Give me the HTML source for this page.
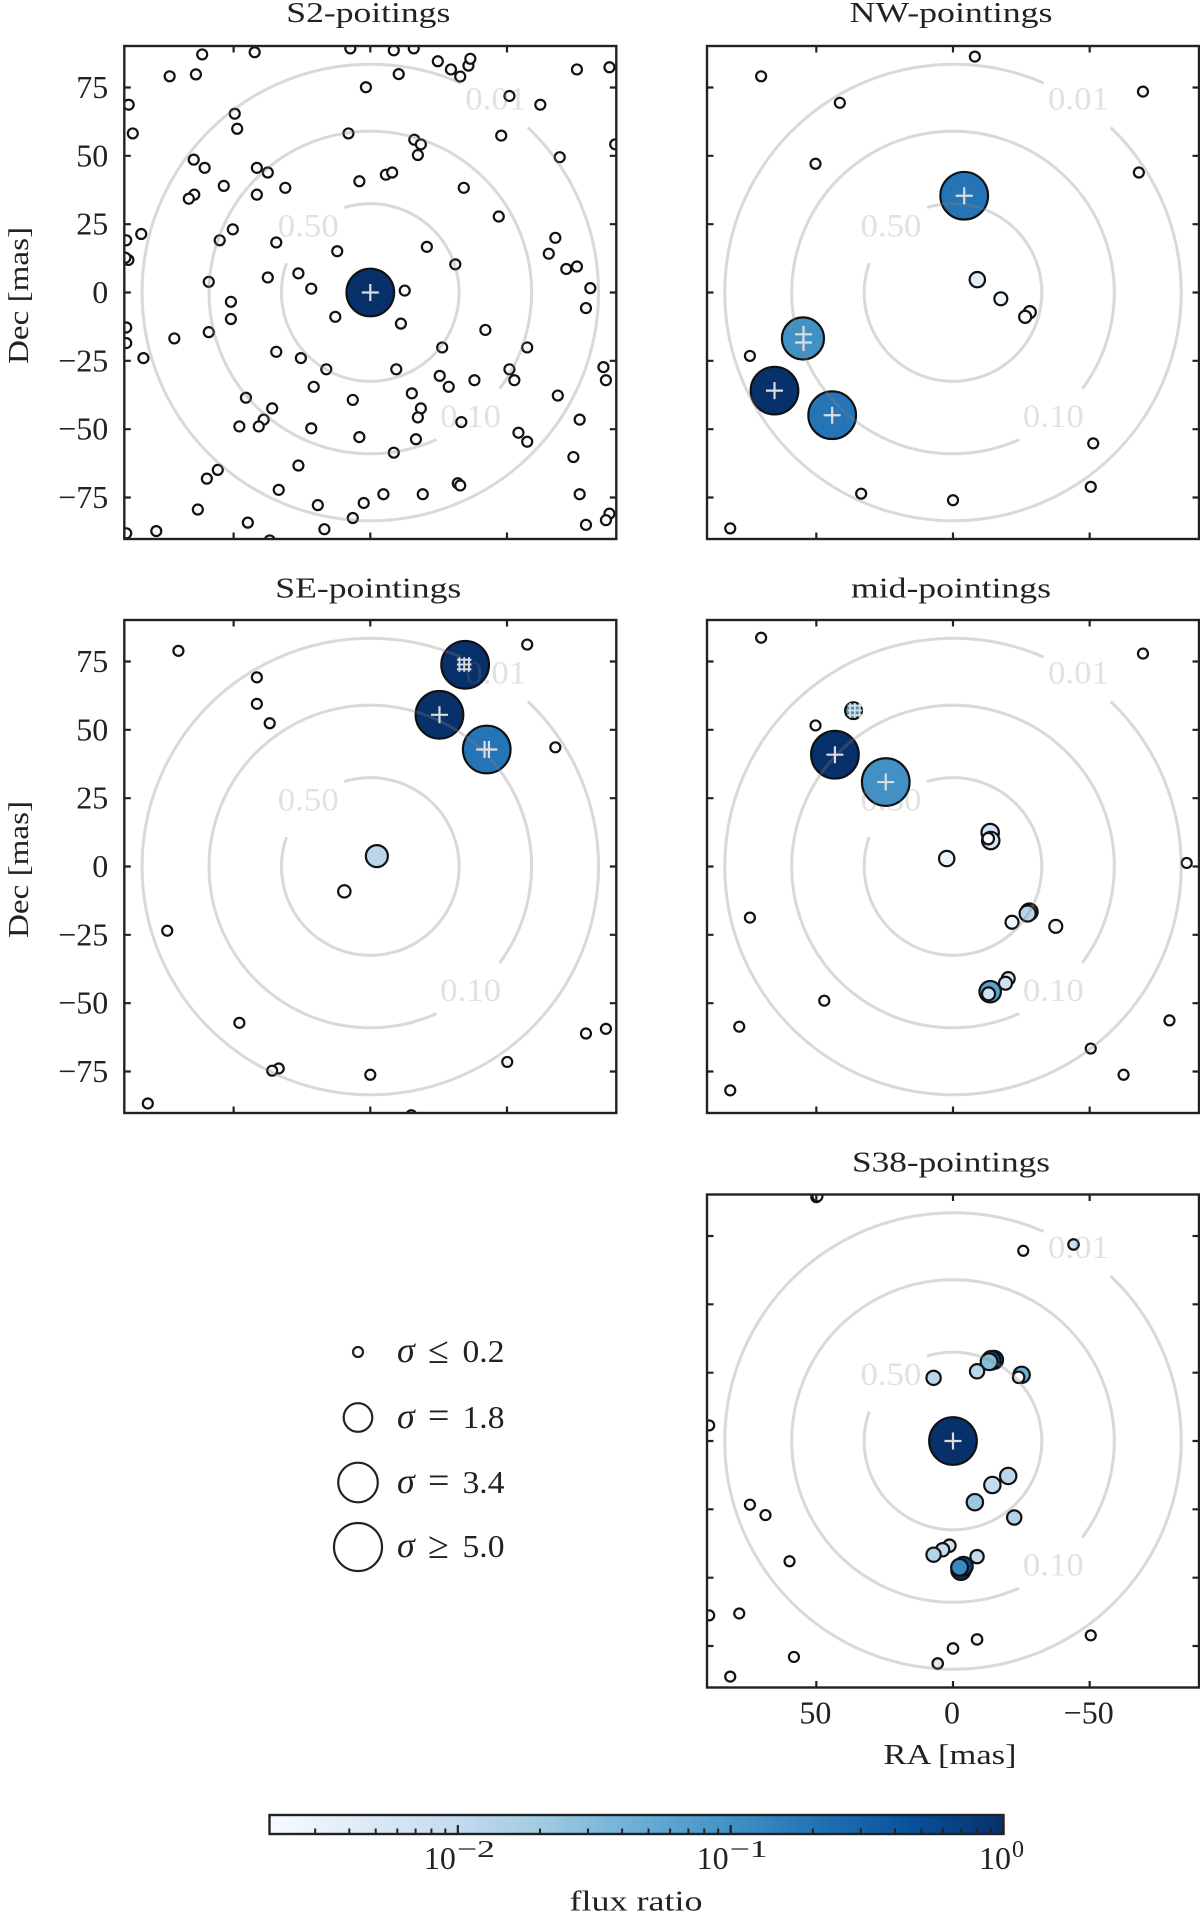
<!DOCTYPE html>
<html lang="en">
<head>
<meta charset="utf-8">
<title>Pointings flux ratio chart</title>
<style>
html,body{margin:0;padding:0;background:#fff;}
body{width:1200px;height:1922px;overflow:hidden;}
svg{display:block;}
text{font-family:"Liberation Serif","DejaVu Serif",serif;fill:#222;}
</style>
</head>
<body>
<svg id="chart" xmlns="http://www.w3.org/2000/svg" width="1200" height="1922" viewBox="0 0 1200 1922">
  <defs>
    <linearGradient id="blues" x1="0" x2="1" y1="0" y2="0">
      <stop offset="0" stop-color="#f7fbff"/><stop offset="0.125" stop-color="#deebf7"/>
      <stop offset="0.25" stop-color="#c6dbef"/><stop offset="0.375" stop-color="#9ecae1"/>
      <stop offset="0.5" stop-color="#6baed6"/><stop offset="0.625" stop-color="#4292c6"/>
      <stop offset="0.75" stop-color="#2171b5"/><stop offset="0.875" stop-color="#08519c"/>
      <stop offset="1" stop-color="#08306b"/>
    </linearGradient>
  </defs>
  <g>
    <circle cx="358" cy="1352" r="5" fill="#fff" stroke="#222" stroke-width="2.2"/>
    <text x="397" y="1362" font-size="36" font-style="italic">σ</text>
    <text x="428" y="1363" font-size="38">≤</text>
    <text x="462.5" y="1362" font-size="32" textLength="42" lengthAdjust="spacingAndGlyphs">0.2</text>
    <circle cx="358" cy="1417.5" r="14.3" fill="#fff" stroke="#222" stroke-width="2.2"/>
    <text x="397" y="1428" font-size="36" font-style="italic">σ</text>
    <text x="428" y="1428" font-size="38">=</text>
    <text x="462.5" y="1428" font-size="32" textLength="42" lengthAdjust="spacingAndGlyphs">1.8</text>
    <circle cx="358" cy="1482.5" r="19.8" fill="#fff" stroke="#222" stroke-width="2.2"/>
    <text x="397" y="1493" font-size="36" font-style="italic">σ</text>
    <text x="428" y="1493" font-size="38">=</text>
    <text x="462.5" y="1493" font-size="32" textLength="42" lengthAdjust="spacingAndGlyphs">3.4</text>
    <circle cx="358" cy="1547" r="24" fill="#fff" stroke="#222" stroke-width="2.2"/>
    <text x="397" y="1557" font-size="36" font-style="italic">σ</text>
    <text x="428" y="1558" font-size="38">≥</text>
    <text x="462.5" y="1557" font-size="32" textLength="42" lengthAdjust="spacingAndGlyphs">5.0</text>
  </g>
</svg>
<script>
// ---------- S2 panel ----------
const s2Ra = [0,61.5,42.3,7.3,-8.6,-15.9,-24.7,-29.5,-32.9,-35.9,-36.6,-75.6,-87.5,73.4,63.8,-10.4,1.6,-50.9,-62.2,88.4,49.6,48.7,86.9,8.0,-16.1,-18.5,-17.4,-47.9,-89.6,-69.3,64.6,60.6,41.5,37.5,-5.7,-8.0,4.0,53.6,31.1,-34.2,64.4,66.4,41.5,-47.0,83.8,50.3,89.3,55.1,34.4,-67.7,-20.7,12.1,-65.3,-31.1,88.5,89.6,-71.7,-75.6,26.3,59.1,37.5,21.6,-12.6,-80.5,51.0,-78.9,12.8,51.0,-11.2,89.3,-42.1,59.1,71.7,89.3,-26.3,-57.4,34.4,83.0,25.4,16.1,-9.5,-50.9,-85.3,-25.4,-86.2,-38.1,-52.7,20.7,-28.7,-15.2,-68.6,45.5,6.4,35.9,-18.5,-17.4,39.0,-76.6,-33.3,47.9,40.8,21.6,-54.2,4.0,-16.7,-57.4,-8.6,-74.3,26.3,55.8,59.8,33.5,-32.0,-32.9,-4.8,-19.2,-76.6,2.4,19.2,63.1,6.4,-87.5,-86.2,44.8,-78.9,16.8,78.3,89.3,36.8];
const s2Dec = [0,87.1,87.9,89.3,88.6,89.3,84.6,81.6,79.0,83.0,85.5,81.6,82.4,79.1,79.8,79.9,75.1,71.9,68.7,68.7,65.4,59.9,58.2,58.2,55.9,54.2,50.3,57.4,54.2,49.5,48.6,45.6,45.6,43.9,43.1,43.9,40.7,39.0,38.3,38.3,35.8,34.3,35.8,27.8,21.4,23.1,19.1,19.1,18.3,20.0,16.7,15.1,14.2,10.3,11.9,12.7,8.6,9.5,7.0,3.9,5.5,1.4,0.7,1.6,-3.4,-5.7,-8.9,-9.7,-11.4,-12.8,-13.7,-14.5,-16.8,-18.5,-20.1,-20.1,-21.7,-24.0,-24.0,-28.1,-28.1,-28.1,-27.3,-30.5,-32.1,-32.1,-32.1,-34.5,-34.5,-36.9,-37.7,-38.5,-39.3,-42.4,-42.4,-45.7,-46.5,-46.5,-47.4,-49.0,-49.0,-49.7,-51.3,-52.9,-53.7,-54.6,-58.6,-60.2,-63.3,-64.9,-68.1,-72.2,-69.8,-70.6,-73.8,-73.8,-73.8,-77.0,-77.8,-79.4,-82.5,-80.9,-83.3,-84.2,-85.0,-86.6,-87.3,-88.1,-90.7];
const s2Sigma = [5,0.2,0.2,0.2,0.2,0.2,0.2,0.2,0.2,0.2,0.2,0.2,0.2,0.2,0.2,0.2,0.2,0.2,0.2,0.2,0.2,0.2,0.2,0.2,0.2,0.2,0.2,0.2,0.2,0.2,0.2,0.2,0.2,0.2,0.2,0.2,0.2,0.2,0.2,0.2,0.2,0.2,0.2,0.2,0.2,0.2,0.2,0.2,0.2,0.2,0.2,0.2,0.2,0.2,0.2,0.2,0.2,0.2,0.2,0.2,0.2,0.2,0.2,0.2,0.2,0.2,0.2,0.2,0.2,0.2,0.2,0.2,0.2,0.2,0.2,0.2,0.2,0.2,0.2,0.2,0.2,0.2,0.2,0.2,0.2,0.2,0.2,0.2,0.2,0.2,0.2,0.2,0.2,0.2,0.2,0.2,0.2,0.2,0.2,0.2,0.2,0.2,0.2,0.2,0.2,0.2,0.2,0.2,0.2,0.2,0.2,0.2,0.2,0.2,0.2,0.2,0.2,0.2,0.2,0.2,0.2,0.2,0.2,0.2,0.2,0.2,0.2,0.2,0.2];
const s2Flux = [1,0.002,0.002,0.002,0.002,0.002,0.002,0.002,0.002,0.002,0.002,0.002,0.002,0.002,0.002,0.002,0.002,0.002,0.002,0.002,0.002,0.002,0.002,0.002,0.002,0.002,0.002,0.002,0.002,0.002,0.002,0.002,0.002,0.002,0.002,0.002,0.002,0.002,0.002,0.002,0.002,0.002,0.002,0.002,0.002,0.002,0.002,0.002,0.002,0.002,0.002,0.002,0.002,0.002,0.002,0.002,0.002,0.002,0.002,0.002,0.002,0.002,0.002,0.002,0.002,0.002,0.002,0.002,0.002,0.002,0.002,0.002,0.002,0.002,0.002,0.002,0.002,0.002,0.002,0.002,0.002,0.002,0.002,0.002,0.002,0.002,0.002,0.002,0.002,0.002,0.002,0.002,0.002,0.002,0.002,0.002,0.002,0.002,0.002,0.002,0.002,0.002,0.002,0.002,0.002,0.002,0.002,0.002,0.002,0.002,0.002,0.002,0.002,0.002,0.002,0.002,0.002,0.002,0.002,0.002,0.002,0.002,0.002,0.002,0.002,0.002,0.002,0.002,0.002];
const s2PlusRa = [0];
const s2PlusDec = [0];
const s2GridRa = [];
const s2GridDec = [];

// ---------- NW panel ----------
const nwRa = [-8.0,70.2,41.4,-69.5,50.3,-68.0,-4.1,-8.9,-17.5,-28.1,-26.4,54.9,74.3,65.3,44.2,-51.3,-50.4,33.6,0,81.5,-8];
const nwDec = [86.3,79.1,69.4,73.5,47.1,43.9,35.4,4.7,-2.3,-7.2,-8.9,-16.8,-23.2,-35.9,-44.9,-55.2,-71.1,-73.6,-76.0,-86.3,-92];
const nwSigma = [0.2,0.2,0.2,0.2,0.2,0.2,5,0.5,0.35,0.3,0.3,3.9,0.2,5,5,0.2,0.2,0.2,0.2,0.2,0.2];
const nwFlux = [0.002,0.002,0.002,0.002,0.002,0.002,0.2,0.004,0.0025,0.002,0.002,0.1,0.002,1,0.2,0.002,0.002,0.002,0.002,0.002,0.002];
const nwPlusRa = [-4.1,54.7,54.7,65.3,44.2];
const nwPlusDec = [35.4,-15.3,-18.3,-35.9,-44.9];
const nwGridRa = [];
const nwGridDec = [];

// ---------- SE panel ----------
const seRa = [70.2,-57.4,41.5,41.5,36.8,-67.7,-34.7,-25.3,-42.6,-2.4,9.5,74.3,47.9,-78.9,-86.2,-50.1,33.5,35.9,0,81.4,-15];
const seDec = [78.9,81.2,69.2,59.5,52.4,43.6,73.8,55.5,42.8,3.8,-9.1,-23.5,-57.2,-61.1,-59.4,-71.5,-73.9,-74.7,-76.2,-86.7,-91];
const seSigma = [0.2,0.2,0.2,0.2,0.2,0.2,5,5,5,1.05,0.32,0.2,0.2,0.2,0.2,0.2,0.2,0.2,0.2,0.2,0.2];
const seFlux = [0.002,0.002,0.002,0.002,0.002,0.002,1,1,0.2,0.012,0.002,0.002,0.002,0.002,0.002,0.002,0.002,0.002,0.002,0.002,0.002];
const sePlusRa = [-25.3,-41.8,-43.4];
const sePlusDec = [55.5,42.8,42.8];
const seGridRa = [-32.6,-34.35,-36.1,-32.6,-34.35,-36.1,-32.6,-34.35,-36.1];
const seGridDec = [75.65,75.65,75.65,73.9,73.9,73.9,72.15,72.15,72.15];

// ---------- mid panel ----------
const midRa = [70.2,-69.5,36.4,50.3,43.2,24.6,-13.6,-13.8,-12.9,2.3,-85.5,-27.9,-27.3,-21.6,-37.6,74.3,-20.2,-19.2,-12.5,-13.6,-13.0,47.1,78.2,-79.2,-50.4,-62.4,81.5];
const midDec = [83.7,77.9,57.0,51.6,40.9,30.9,12.4,9.5,10.2,2.9,1.3,-16.6,-17.2,-20.4,-21.9,-18.7,-41.0,-42.7,-46.3,-45.8,-46.6,-49.1,-58.6,-56.3,-66.6,-76.2,-81.9];
const midSigma = [0.2,0.2,0.6,0.2,5,5,0.65,0.65,0.27,0.5,0.2,0.6,0.55,0.35,0.35,0.2,0.35,0.35,0.45,1.0,0.35,0.2,0.2,0.2,0.2,0.2,0.2];
const midFlux = [0.002,0.002,0.1,0.002,1,0.1,0.006,0.006,0.002,0.003,0.002,0.05,0.012,0.0025,0.0025,0.002,0.0045,0.007,0.1,0.065,0.007,0.002,0.002,0.002,0.002,0.002,0.002];
const midPlusRa = [43.2,24.6];
const midPlusDec = [40.9,30.9];
const midGridRa = [37.65,35.9,34.15,37.65,35.9,34.15,37.65,35.9,34.15];
const midGridDec = [58.85,58.85,58.85,57.1,57.1,57.1,55.35,55.35,55.35];

// ---------- S38 panel ----------
const s38Ra = [50,49.6,-25.7,-44.1,-15,-14,-13.2,-8.8,7.1,-25.1,-24.0,89.2,0,-20.2,-14.4,-8.0,-22.4,74.3,68.6,1.3,3.8,7.1,-8.8,-2.9,-3.8,-2.4,59.8,78.2,89.2,58.2,-8.8,-50.4,0,5.6,81.5];
const s38Dec = [89.2,89.5,69.6,71.9,29.7,29.5,29.0,25.5,23.1,24.2,23.3,5.7,0,-12.8,-16.1,-22.4,-28.0,-23.3,-27.1,-38.3,-39.8,-41.6,-42.3,-47.3,-45.8,-46.2,-44.0,-63.1,-63.8,-79.0,-72.6,-71.1,-75.9,-81.4,-86.2];
const s38Sigma = [0.2,0.2,0.2,0.22,0.7,0.75,0.6,0.43,0.43,0.57,0.27,0.2,5,0.57,0.57,0.57,0.43,0.2,0.2,0.32,0.37,0.43,0.37,0.8,0.75,0.6,0.2,0.2,0.2,0.2,0.22,0.2,0.22,0.22,0.2];
const s38Flux = [0.3,0.003,0.002,0.007,0.1,0.5,0.03,0.012,0.012,0.045,0.002,0.002,1,0.012,0.0095,0.022,0.014,0.002,0.002,0.007,0.0095,0.014,0.0095,1,0.6,0.12,0.002,0.002,0.002,0.002,0.003,0.002,0.003,0.0045,0.002];
const s38PlusRa = [0];
const s38PlusDec = [0];
const s38GridRa = [];
const s38GridDec = [];

// ---------- shared axis data ----------
const xTickValues = [50,0,-50];
const yTickValues = [75,50,25,0,-25,-50,-75];
const contourLabels = ['0.01','0.10','0.50'];
const contourRadiusMas = [83.5,59,32.5];
const contourGapLowDeg = [46.3,-65.8,107];
const contourGapHighDeg = [66.6,-36.7,160.6];
const contourLabelRa = [-45.9,-36.7,22.7];
const contourLabelDec = [70.9,-45.2,24.5];
const colorbarMajor = [0.01,0.1,1];
const colorbarMajorExponent = ['\u22122','\u22121','0'];
const colorbarMinor = [0.003,0.004,0.005,0.006,0.007,0.008,0.009,0.02,0.03,0.04,0.05,0.06,0.07,0.08,0.09,0.2,0.3,0.4,0.5,0.6,0.7,0.8,0.9];
const fluxMin = 0.00204;
const fluxMax = 1;

// ---------- scales and drawing ----------
const NS = 'http://www.w3.org/2000/svg';
const svg = document.getElementById('chart');
const PANEL_W = 492;
const PANEL_H = 493;
const RANGE = 90;
const PX = PANEL_W / (2 * RANGE);
const bluesStops = [[247,251,255],[222,235,247],[198,219,239],[158,202,225],[107,174,214],[66,146,198],[33,113,181],[8,81,156],[8,48,107]];
const INK = '#222';

function fluxPos(f) { return (Math.log10(f) - Math.log10(fluxMin)) / (Math.log10(fluxMax) - Math.log10(fluxMin)); }
function fluxColor(f) {
  const t = Math.max(0, Math.min(1, fluxPos(f))) * (bluesStops.length - 1);
  const i = Math.min(Math.floor(t), bluesStops.length - 2);
  const u = t - i;
  const c = bluesStops[i].map((v, k) => Math.round(v + (bluesStops[i + 1][k] - v) * u));
  return 'rgb(' + c.join(',') + ')';
}
function sigmaRadius(s) { return Math.sqrt(25 + (Math.max(s, 0.2) - 0.2) * 113); }
function mk(parent, tag, attrs, text) {
  const e = document.createElementNS(NS, tag);
  for (const k in attrs) e.setAttribute(k, attrs[k]);
  if (text !== undefined) e.textContent = text;
  parent.appendChild(e);
  return e;
}

function drawPanel(key, title, titleWidth, titleY, left, top, ra, dec, sigma, flux, plusRa, plusDec, gridRa, gridDec, showY, showX) {
  const cx = left + PANEL_W / 2, cy = top + PANEL_H / 2;
  const xScale = v => cx - v * PX;
  const yScale = v => cy - v * PX;

  const g = mk(svg, 'g', {});
  
  

  const t = mk(g, 'text', { x: cx - 2, y: titleY, 'text-anchor': 'middle', 'font-size': 28.5, textLength: titleWidth, lengthAdjust: 'spacingAndGlyphs' }, title);
  
  

  const clipId = 'clip-' + key;
  const clip = mk(g, 'clipPath', { id: clipId });
  mk(clip, 'rect', { x: left, y: top, width: PANEL_W, height: PANEL_H });
  const body = mk(g, 'g', { 'clip-path': 'url(#' + clipId + ')' });

  ra.forEach((v, i) => {
    const c = mk(body, 'circle', { cx: xScale(v), cy: yScale(dec[i]), r: sigmaRadius(sigma[i]), fill: fluxColor(flux[i]), stroke: '#111', 'stroke-width': 2.2 });
    
    
  });

  contourRadiusMas.forEach((r, i) => {
    const hi = contourGapHighDeg[i] * Math.PI / 180, lo = contourGapLowDeg[i] * Math.PI / 180;
    const rp = r * PX;
    const d = 'M' + (cx + rp * Math.cos(hi)) + ' ' + (cy - rp * Math.sin(hi)) + ' A' + rp + ' ' + rp + ' 0 1 0 ' + (cx + rp * Math.cos(lo)) + ' ' + (cy - rp * Math.sin(lo));
    const p = mk(body, 'path', { d: d, fill: 'none', stroke: '#808080', 'stroke-opacity': 0.3, 'stroke-width': 3 });
    
    
    const l = mk(body, 'text', { x: xScale(contourLabelRa[i]), y: yScale(contourLabelDec[i]) + 11, 'text-anchor': 'middle', 'font-size': 33, textLength: 61, lengthAdjust: 'spacingAndGlyphs', style: 'fill:#808080;fill-opacity:0.24' }, contourLabels[i]);
    
    
  });

  plusRa.forEach((v, i) => {
    const px = xScale(v), py = yScale(plusDec[i]);
    const m = mk(body, 'path', { d: 'M' + (px - 8.5) + ' ' + py + 'H' + (px + 8.5) + 'M' + px + ' ' + (py - 8.5) + 'V' + (py + 8.5), stroke: '#dcdcdc', 'stroke-width': 2.2, fill: 'none' });
    
    
  });
  gridRa.forEach((v, i) => {
    const px = xScale(v), py = yScale(gridDec[i]);
    const m = mk(body, 'path', { d: 'M' + (px - 2.5) + ' ' + py + 'H' + (px + 2.5) + 'M' + px + ' ' + (py - 2.5) + 'V' + (py + 2.5), stroke: '#dcdcdc', 'stroke-width': 1.9, fill: 'none' });
    
    
  });

  const frame = mk(g, 'rect', { x: left, y: top, width: PANEL_W, height: PANEL_H, fill: 'none', stroke: INK, 'stroke-width': 2.4 });
  
  

  xTickValues.forEach(v => {
    const x = xScale(v);
    const tk = mk(g, 'path', { d: 'M' + x + ' ' + top + 'v6.5M' + x + ' ' + (top + PANEL_H) + 'v-6.5', stroke: INK, 'stroke-width': 2.2, fill: 'none' });
    
    
    if (showX) {
      const lb = mk(g, 'text', { x: x - 1, y: top + PANEL_H + 36, 'text-anchor': 'middle', 'font-size': 32 }, String(v).replace('-', '\u2212'));
      
      
    }
  });
  yTickValues.forEach(v => {
    const y = yScale(v);
    const tk = mk(g, 'path', { d: 'M' + left + ' ' + y + 'h6.5M' + (left + PANEL_W) + ' ' + y + 'h-6.5', stroke: INK, 'stroke-width': 2.2, fill: 'none' });
    
    
    if (showY) {
      const lb = mk(g, 'text', { x: left - 16, y: y + 10.5, 'text-anchor': 'end', 'font-size': 32 }, String(v).replace('-', '\u2212'));
      
      
    }
  });
  if (showY) {
    const yl = mk(g, 'text', { transform: 'translate(28,' + (cy + 3) + ') rotate(-90)', 'text-anchor': 'middle', 'font-size': 28.5, textLength: 137, lengthAdjust: 'spacingAndGlyphs' }, 'Dec [mas]');
    
    
  }
  if (showX) {
    const xl = mk(g, 'text', { x: cx - 3, y: top + PANEL_H + 76.5, 'text-anchor': 'middle', 'font-size': 28.5, textLength: 133, lengthAdjust: 'spacingAndGlyphs' }, 'RA [mas]');
    
    
  }
}

const LEFT_COL = 124.3, RIGHT_COL = 707;
drawPanel('s2', 'S2-poitings', 164, 22, LEFT_COL, 46, s2Ra, s2Dec, s2Sigma, s2Flux, s2PlusRa, s2PlusDec, s2GridRa, s2GridDec, true, false);
drawPanel('nw', 'NW-pointings', 203, 22, RIGHT_COL, 46, nwRa, nwDec, nwSigma, nwFlux, nwPlusRa, nwPlusDec, nwGridRa, nwGridDec, false, false);
drawPanel('se', 'SE-pointings', 186, 597.5, LEFT_COL, 620, seRa, seDec, seSigma, seFlux, sePlusRa, sePlusDec, seGridRa, seGridDec, true, false);
drawPanel('mid', 'mid-pointings', 200, 597.5, RIGHT_COL, 620, midRa, midDec, midSigma, midFlux, midPlusRa, midPlusDec, midGridRa, midGridDec, false, false);
drawPanel('s38', 'S38-pointings', 198, 1171.5, RIGHT_COL, 1194.5, s38Ra, s38Dec, s38Sigma, s38Flux, s38PlusRa, s38PlusDec, s38GridRa, s38GridDec, false, true);

// ---------- colorbar ----------
(function () {
  const left = 269.5, right = 1003.5, top = 1815, bottom = 1834;
  const cbX = f => left + fluxPos(f) * (right - left);
  const g = mk(svg, 'g', {});
  
  
  const bar = mk(g, 'rect', { x: left, y: top, width: right - left, height: bottom - top, fill: 'url(#blues)', stroke: INK, 'stroke-width': 2.4 });
  
  
  colorbarMinor.forEach(f => {
    const x = cbX(f);
    const t = mk(g, 'path', { d: 'M' + x + ' ' + bottom + 'v-5.5', stroke: INK, 'stroke-width': 2, fill: 'none' });
    
    
  });
  colorbarMajor.forEach((f, i) => {
    const x = cbX(f);
    const t = mk(g, 'path', { d: 'M' + x + ' ' + bottom + 'v-9', stroke: INK, 'stroke-width': 2.2, fill: 'none' });
    
    
    const long = colorbarMajorExponent[i].length > 1;
    const baseX = x - (long ? 34 : 24.5);
    const lb = mk(g, 'text', { x: baseX, y: 1869, 'font-size': 32 }, '10');
    
    
    const sup = mk(g, 'text', { x: baseX + 33, y: 1857, 'font-size': 24, textLength: long ? 38 : 12, lengthAdjust: 'spacingAndGlyphs' }, colorbarMajorExponent[i]);
    
    
  });
  const title = mk(g, 'text', { x: 636, y: 1910.5, 'text-anchor': 'middle', 'font-size': 29, textLength: 133, lengthAdjust: 'spacingAndGlyphs' }, 'flux ratio');
  
  
})();
</script>
</body>
</html>
